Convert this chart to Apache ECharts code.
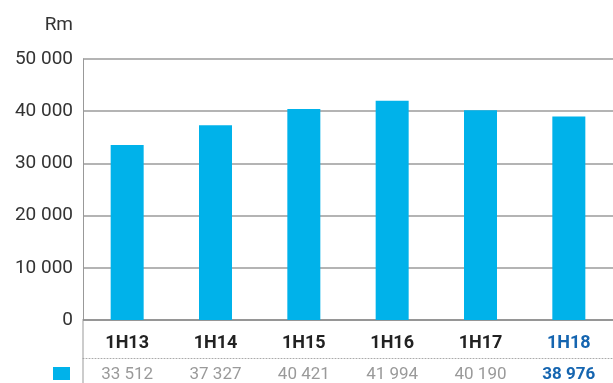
<!DOCTYPE html>
<html><head><meta charset="utf-8">
<script src="https://cdn.jsdelivr.net/npm/echarts@6/dist/echarts.min.js"></script>
<style>html,body{margin:0;padding:0;background:#fff}#c{width:613px;height:383px}</style>
</head><body><div id="c"></div>
<script>
var categories = ['1H13','1H14','1H15','1H16','1H17','1H18'];
var values = [33512, 37327, 40421, 41994, 40190, 38976];
var yTicks = [0, 10000, 20000, 30000, 40000, 50000];
var unitLabel = 'Rm';

function fmt(v){ return String(v).replace(/\B(?=(\d{3})+(?!\d))/g, ' '); }

var FONT = 'Roboto';
var chart = echarts.init(document.getElementById('c'), null, {renderer:'canvas'});
var last = categories.length - 1;
chart.setOption({
  animation: false,
  textStyle: {fontFamily: FONT},
  grid: {left: 83, top: 59, width: 543, height: 262, containLabel: false},
  xAxis: [{
    type: 'category', data: categories, position: 'bottom',
    axisLine: {lineStyle: {color: '#8c8c8c', width: 1.5}},
    axisTick: {show: false},
    axisLabel: {
      margin: 14,
      formatter: function(v, i){ return i === last ? '{h|' + v + '}' : '{n|' + v + '}'; },
      rich: {n: {fontSize: 18, fontWeight: 'bold', color: '#222', fontFamily: FONT},
             h: {fontSize: 18, fontWeight: 'bold', color: '#1565b0', fontFamily: FONT}}
    }
  }, {
    type: 'category', data: values.map(fmt), position: 'bottom', offset: 38,
    axisLine: {show: true, lineStyle: {color: '#aaa', type: [1, 2], width: 1}},
    axisTick: {show: false},
    axisLabel: {
      margin: 8,
      formatter: function(v, i){ return i === last ? '{h|' + v + '}' : '{n|' + v + '}'; },
      rich: {n: {fontSize: 17, color: '#9a9a9a', fontFamily: FONT},
             h: {fontSize: 17, fontWeight: 'bold', color: '#1565b0', fontFamily: FONT}}
    }
  }],
  yAxis: {
    type: 'value', min: yTicks[0], max: yTicks[yTicks.length-1], interval: 10000,
    name: unitLabel, nameLocation: 'end', nameGap: 24,
    nameTextStyle: {fontSize: 19, color: '#333', align: 'right', padding: [0, 10, 0, 0]},
    axisLine: {show: true, lineStyle: {color: '#999', width: 1}},
    axisTick: {show: false},
    axisLabel: {fontSize: 19, color: '#333', margin: 10, formatter: function(v){ return fmt(v); }},
    splitLine: {lineStyle: {color: '#b4b4b4', width: 2}}
  },
  series: [{
    type: 'bar', data: values, xAxisIndex: 0, barWidth: 33,
    itemStyle: {color: '#00b2ea'}
  }],
  graphic: [
    {type: 'line', shape: {x1: 83, y1: 321, x2: 83, y2: 383}, style: {stroke: '#999', lineWidth: 1}, z: 10},
    {type: 'rect', shape: {x: 53, y: 367, width: 17, height: 13}, style: {fill: '#00b2ea'}}
  ]
});
</script></body></html>
